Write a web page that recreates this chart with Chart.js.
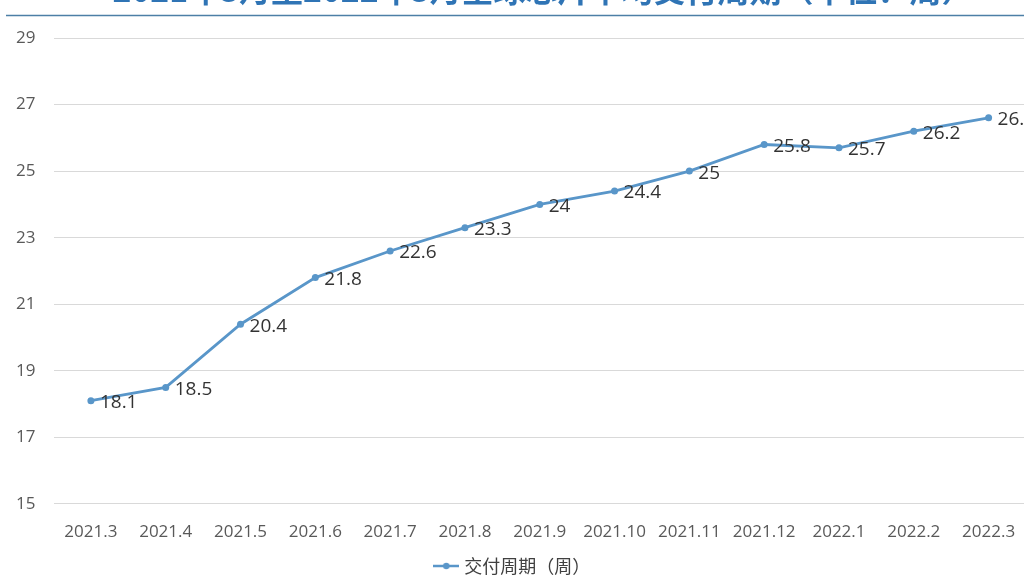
<!DOCTYPE html>
<html>
<head>
<meta charset="utf-8">
<script src="https://cdn.jsdelivr.net/npm/chart.js@4/dist/chart.umd.min.js"></script>
<style>
  html, body { margin: 0; padding: 0; background: #fff; overflow: hidden; }
  #wrap { position: relative; width: 1024px; height: 576px; overflow: hidden; }
  #wrap canvas { position: absolute; left: 0; top: 0; }
</style>
</head>
<body>
<div id="wrap"><canvas id="myChart" width="1030" height="585"></canvas></div>
<script>
// data
var months = ["2021.3", "2021.4", "2021.5", "2021.6", "2021.7", "2021.8", "2021.9",
  "2021.10", "2021.11", "2021.12", "2022.1", "2022.2", "2022.3"];
var weeks = [18.1, 18.5, 20.4, 21.8, 22.6, 23.3, 24, 24.4, 25, 25.8, 25.7, 26.2, 26.6];
var yTicks = [15, 17, 19, 21, 23, 25, 27, 29];
var seriesName = "交付周期（周）";
var titleText = "2021年3月至2022年3月全球芯片平均交付周期（单位：周）";

var lineColor = '#5996c9';

// legend marker: line with a dot
var marker = document.createElement('canvas');
marker.width = 26;
marker.height = 10;
var m = marker.getContext('2d');
m.strokeStyle = lineColor;
m.lineWidth = 2.5;
m.beginPath(); m.moveTo(0, 5); m.lineTo(26, 5); m.stroke();
m.fillStyle = lineColor;
m.beginPath(); m.arc(13, 5, 3.2, 0, Math.PI * 2); m.fill();

var titlePlugin = {
  id: 'topTitle',
  afterDraw: function (chart) {
    var c = chart.ctx;
    c.save();
    c.fillStyle = '#2f74b5';
    c.font = 'bold 32px "Noto Sans CJK SC"';
    c.textAlign = 'center';
    c.textBaseline = 'alphabetic';
    c.fillText(titleText, 543, 2);
    c.strokeStyle = '#4d7fa6';
    c.lineWidth = 1.5;
    c.beginPath(); c.moveTo(6, 15.5); c.lineTo(1030, 15.5); c.stroke();
    c.restore();
  }
};

var labelPlugin = {
  id: 'pointLabels',
  afterDatasetsDraw: function (chart) {
    var c = chart.ctx;
    var meta = chart.getDatasetMeta(0);
    c.save();
    c.fillStyle = '#333333';
    c.font = '19px "Open Sans"';
    c.textAlign = 'left';
    c.textBaseline = 'middle';
    meta.data.forEach(function (pt, i) {
      c.fillText(String(weeks[i]), pt.x + 9, pt.y + 2);
    });
    c.restore();
  }
};

var ctx = document.getElementById("myChart");

// canvas is 9px taller than the window so the legend sits near the bottom edge
new Chart(ctx, {
  type: 'line',
  data: {
    labels: months,
    datasets: [{
      label: seriesName,
      data: weeks,
      borderColor: lineColor,
      backgroundColor: lineColor,
      borderWidth: 2.8,
      pointRadius: 3.5,
      pointBackgroundColor: lineColor,
      pointBorderWidth: 0,
      tension: 0
    }]
  },
  options: {
    responsive: false,
    animation: false,
    layout: { padding: { top: 38, right: 2.5, left: 0, bottom: 0 } },
    scales: {
      x: {
        offset: true,
        grid: { display: false },
        border: { display: false },
        ticks: { color: '#595959', font: { family: 'Open Sans', size: 17 }, padding: 10, maxRotation: 0, autoSkip: false },
        afterFit: function (s) { s.height = 51.6; }
      },
      y: {
        min: 15,
        max: 29,
        afterBuildTicks: function (s) { s.ticks = yTicks.map(function (v) { return { value: v }; }); },
        grid: { color: '#d9d9d9', drawTicks: false },
        border: { display: false },
        ticks: { color: '#595959', font: { family: 'Open Sans', size: 17 }, padding: 18 },
        afterFit: function (s) { s.width = 53.5; }
      }
    },
    plugins: {
      title: { display: false },
      tooltip: { enabled: false },
      legend: {
        position: 'bottom',
        labels: {
          usePointStyle: true,
          pointStyle: marker,
          color: '#404040',
          font: { family: 'Noto Sans CJK SC', size: 18 },
          padding: 1.5
        }
      }
    }
  },
  plugins: [titlePlugin, labelPlugin]
});
</script>
</body>
</html>
